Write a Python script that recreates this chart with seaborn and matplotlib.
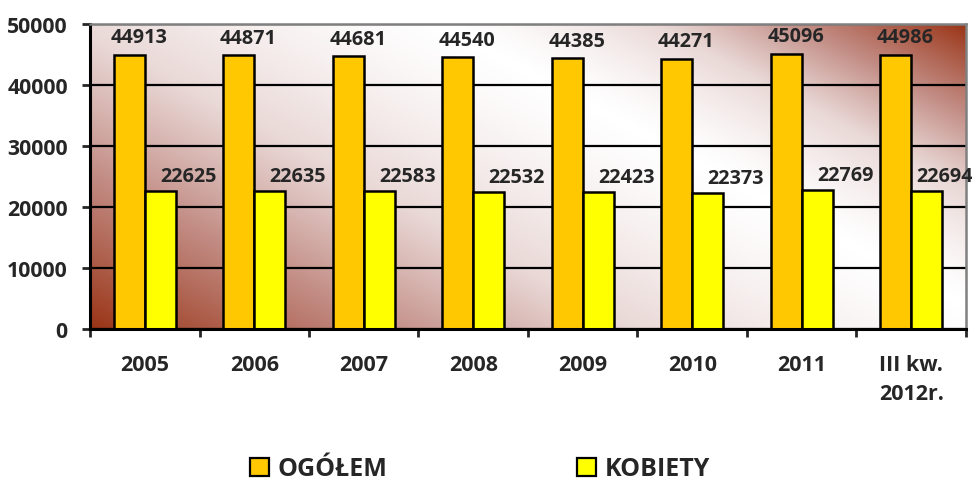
import matplotlib
matplotlib.use("Agg")
import matplotlib.pyplot as plt
from matplotlib.colors import LinearSegmentedColormap
from matplotlib.patches import Patch
import seaborn as sns
import numpy as np
import pandas as pd

# data
years = ["2005", "2006", "2007", "2008", "2009", "2010", "2011", "III kw.\n2012r."]
ogolem = [44913, 44871, 44681, 44540, 44385, 44271, 45096, 44986]
kobiety = [22625, 22635, 22583, 22532, 22423, 22373, 22769, 22694]
series = ["OGÓŁEM", "KOBIETY"]
colors = ["#FFC800", "#FFFF00"]

df = pd.DataFrame({
    "rok": years * 2,
    "liczba": ogolem + kobiety,
    "grupa": [series[0]] * len(years) + [series[1]] * len(years),
})

sns.set_style("white")
plt.rcParams["font.family"] = ["Open Sans", "DejaVu Sans"]
plt.rcParams["font.weight"] = "bold"

fig = plt.figure(figsize=(9.72, 4.85), dpi=100)
ax = fig.add_axes([0.0926, 0.3196, 0.9012, 0.6289])

# diagonal gradient background: dark red corners, white band through the middle
nx, ny = 400, 200
gx, gy = np.meshgrid(np.linspace(0, 1, nx), np.linspace(0, 1, ny))
s = gx + 0.65 * gy - 1.05
t = np.where(s < 0, -s / 1.05, s / 0.6)
t = np.clip(t, 0, 1) ** 1.35
bg_cmap = LinearSegmentedColormap.from_list(
    "bg", [(0, "#FFFFFF"), (0.3, "#E9D8D6"), (0.6, "#C28C84"), (1, "#9A3416")])
ax.imshow(t, cmap=bg_cmap, origin="lower", aspect="auto",
          extent=(-0.5, len(years) - 0.5, 0, 50000), zorder=0,
          interpolation="bilinear")

sns.barplot(data=df, x="rok", y="liczba", hue="grupa", palette=colors,
            width=0.57, edgecolor="black", linewidth=1.8, saturation=1,
            legend=False, ax=ax, zorder=2)

ax.set_xlim(-0.5, len(years) - 0.5)
ax.set_ylim(0, 50000)
ax.set_yticks(range(0, 50001, 10000))
ax.yaxis.grid(True, color="black", linewidth=1.6)
ax.set_axisbelow(True)
for line in ax.get_ygridlines():
    line.set_zorder(1)
ax.set_xlabel("")
ax.set_ylabel("")

# value labels
for bar, v in zip(ax.containers[0], ogolem):
    ax.annotate(str(v), (bar.get_x() + bar.get_width() / 2, v),
                xytext=(7, 5.5), textcoords="offset points",
                ha="center", va="bottom", fontsize=14.3, fontweight="bold")
for i, (bar, v) in enumerate(zip(ax.containers[1], kobiety)):
    dx = 20 if i < len(years) - 1 else 13
    ax.annotate(str(v), (bar.get_x() + bar.get_width() / 2, v),
                xytext=(dx, 3.5), textcoords="offset points",
                ha="center", va="bottom", fontsize=14.3, fontweight="bold")

# axes styling
for side in ["left", "bottom"]:
    ax.spines[side].set_color("black")
    ax.spines[side].set_linewidth(2.2)
for side in ["top", "right"]:
    ax.spines[side].set_color("#808080")
    ax.spines[side].set_linewidth(1.8)
    ax.spines[side].set_visible(True)

ax.tick_params(axis="y", direction="out", length=6, width=2, pad=10,
               labelsize=15.3, left=True)
ax.tick_params(axis="x", which="major", length=0, pad=18, labelsize=15.5)
ax.set_xticks(np.arange(-0.5, len(years), 1), minor=True)
ax.tick_params(axis="x", which="minor", direction="out", length=6, width=2,
               bottom=True)
for lab in ax.get_xticklabels():
    lab.set_linespacing(1.5)
    lab.set_fontweight("bold")
for lab in ax.get_yticklabels():
    lab.set_fontweight("bold")

handles = [Patch(facecolor=c, edgecolor="black", linewidth=1.6) for c in colors]
fig.legend(handles, series, loc="center", bbox_to_anchor=(0.494, 0.031),
           ncol=2, frameon=False, handlelength=0.75,
           handleheight=0.75, handletextpad=0.35, columnspacing=7.6,
           prop={"weight": "bold", "size": 18})

fig.savefig("out.png", dpi=100)
